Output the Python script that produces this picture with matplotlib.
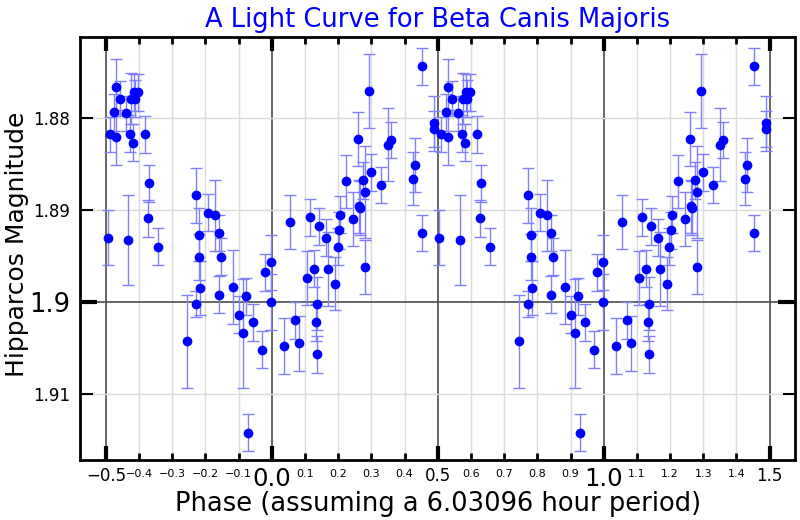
import matplotlib.pyplot as plt
import numpy as np

# Phased Hipparcos photometry of Beta CMa, phase in [-0.5, 0.5)
# (the whole set is drawn twice, the second copy shifted by +1)
phase = [-0.495, -0.489, -0.476, -0.469, -0.469, -0.456, -0.438, -0.432,
         -0.428, -0.425, -0.413, -0.415, -0.403, -0.417, -0.382, -0.371,
         -0.373, -0.344, -0.256, -0.228, -0.228, -0.220, -0.218, -0.217,
         -0.191, -0.171, -0.160, -0.154, -0.160, -0.117, -0.099, -0.086,
         -0.078, -0.071, -0.057, -0.030, -0.021, -0.001, -0.001, 0.036,
         0.056, 0.069, 0.081, 0.107, 0.116, 0.126, 0.136, 0.134,
         0.136, 0.142, 0.164, 0.170, 0.191, 0.198, 0.203, 0.206,
         0.225, 0.244, 0.259, 0.264, 0.266, 0.275, 0.281, 0.281,
         0.294, 0.300, 0.330, 0.350, 0.359, 0.425, 0.432, 0.452,
         0.454, 0.490, 0.490]
mag = [1.8930, 1.8818, 1.8794, 1.8766, 1.8821, 1.8779, 1.8795, 1.8933,
       1.8817, 1.8779, 1.8779, 1.8772, 1.8772, 1.8827, 1.8818, 1.8871,
       1.8909, 1.8940, 1.9043, 1.8884, 1.9002, 1.8927, 1.8951, 1.8985,
       1.8903, 1.8906, 1.8925, 1.8951, 1.8992, 1.8984, 1.9014, 1.9034,
       1.8994, 1.9142, 1.9022, 1.9052, 1.8968, 1.8957, 1.9000, 1.9048,
       1.8913, 1.9020, 1.9045, 1.8974, 1.8908, 1.8964, 1.9002, 1.9022,
       1.9057, 1.8918, 1.8930, 1.8964, 1.8980, 1.8940, 1.8922, 1.8905,
       1.8869, 1.8910, 1.8823, 1.8896, 1.8898, 1.8868, 1.8881, 1.8962,
       1.8771, 1.8859, 1.8873, 1.8829, 1.8824, 1.8866, 1.8851, 1.8925,
       1.8744, 1.8806, 1.8812]
err = [0.0030, 0.0019, 0.0020, 0.0030, 0.0030, 0.0019, 0.0019, 0.0049,
       0.0020, 0.0028, 0.0020, 0.0020, 0.0020, 0.0020, 0.0020, 0.0020,
       0.0020, 0.0020, 0.0050, 0.0030, 0.0014, 0.0029, 0.0025, 0.0029,
       0.0020, 0.0039, 0.0020, 0.0020, 0.0020, 0.0040, 0.0020, 0.0059,
       0.0020, 0.0020, 0.0020, 0.0020, 0.0020, 0.0030, 0.0030, 0.0030,
       0.0029, 0.0020, 0.0030, 0.0029, 0.0020, 0.0020, 0.0029, 0.0020,
       0.0020, 0.0020, 0.0020, 0.0040, 0.0029, 0.0020, 0.0020, 0.0020,
       0.0029, 0.0029, 0.0029, 0.0029, 0.0029, 0.0020, 0.0050, 0.0029,
       0.0040, 0.0020, 0.0020, 0.0040, 0.0020, 0.0029, 0.0029, 0.0020,
       0.0020, 0.0030, 0.0020]

x_major = [-0.5, 0.0, 0.5, 1.0, 1.5]
x_minor = [-0.4, -0.3, -0.2, -0.1, 0.1, 0.2, 0.3, 0.4, 0.6, 0.7, 0.8, 0.9,
           1.1, 1.2, 1.3, 1.4]
y_major = [1.9]
y_minor = [1.88, 1.89, 1.91]


def fmt(v):
    return f"{v:.1f}".replace('-', '\u2212')


fig, ax = plt.subplots(figsize=(8, 5.2), dpi=100)
fig.subplots_adjust(left=0.1, right=0.994, bottom=0.115, top=0.929)

ph = np.array(phase)
for shift in (0, 1):
    ax.errorbar(ph + shift, mag, yerr=err, fmt='o', color='blue', ms=6,
                ecolor=(0.5, 0.5, 1.0), elinewidth=1, capsize=4,
                capthick=1, zorder=3)

ax.set_xlim(-0.578, 1.577)
ax.set_ylim(1.9172, 1.8712)

# ticks: three label sizes on x, two on y
ax.set_xticks(x_major, [fmt(v) for v in x_major])
ax.set_xticks(x_minor, [fmt(v) for v in x_minor], minor=True)
for lbl, v in zip(ax.get_xticklabels(), x_major):
    lbl.set_fontsize(17.5 if v == int(v) else 12)
ax.set_yticks(y_major, ['1.9'])
ax.set_yticks(y_minor, ['1.88', '1.89', '1.91'], minor=True)
for lbl in ax.get_yticklabels():
    lbl.set_fontsize(18.5)

ax.tick_params(axis='x', which='major', direction='in', length=10, width=3,
               top=True, pad=5)
ax.tick_params(axis='x', which='minor', direction='in', length=5, width=2,
               top=True, labelsize=8, pad=6)
ax.tick_params(axis='y', which='major', direction='in', length=12, width=3,
               right=True, pad=7)
ax.tick_params(axis='y', which='minor', direction='in', length=9, width=1.5,
               right=True, labelsize=12, pad=7)

ax.set_axisbelow(True)
ax.grid(which='minor', color='0.86', lw=1)
ax.grid(which='major', color='0.3', lw=1.2)
for s in ax.spines.values():
    s.set_linewidth(2)

ax.set_title('A Light Curve for Beta Canis Majoris', color='blue',
             fontsize=18.5, pad=7)
ax.set_xlabel('Phase (assuming a 6.03096 hour period)', fontsize=18.5,
              labelpad=0)
ax.set_ylabel('Hipparcos Magnitude', fontsize=18)
ax.yaxis.set_label_coords(-0.072, 0.51)

plt.savefig('out.png')
